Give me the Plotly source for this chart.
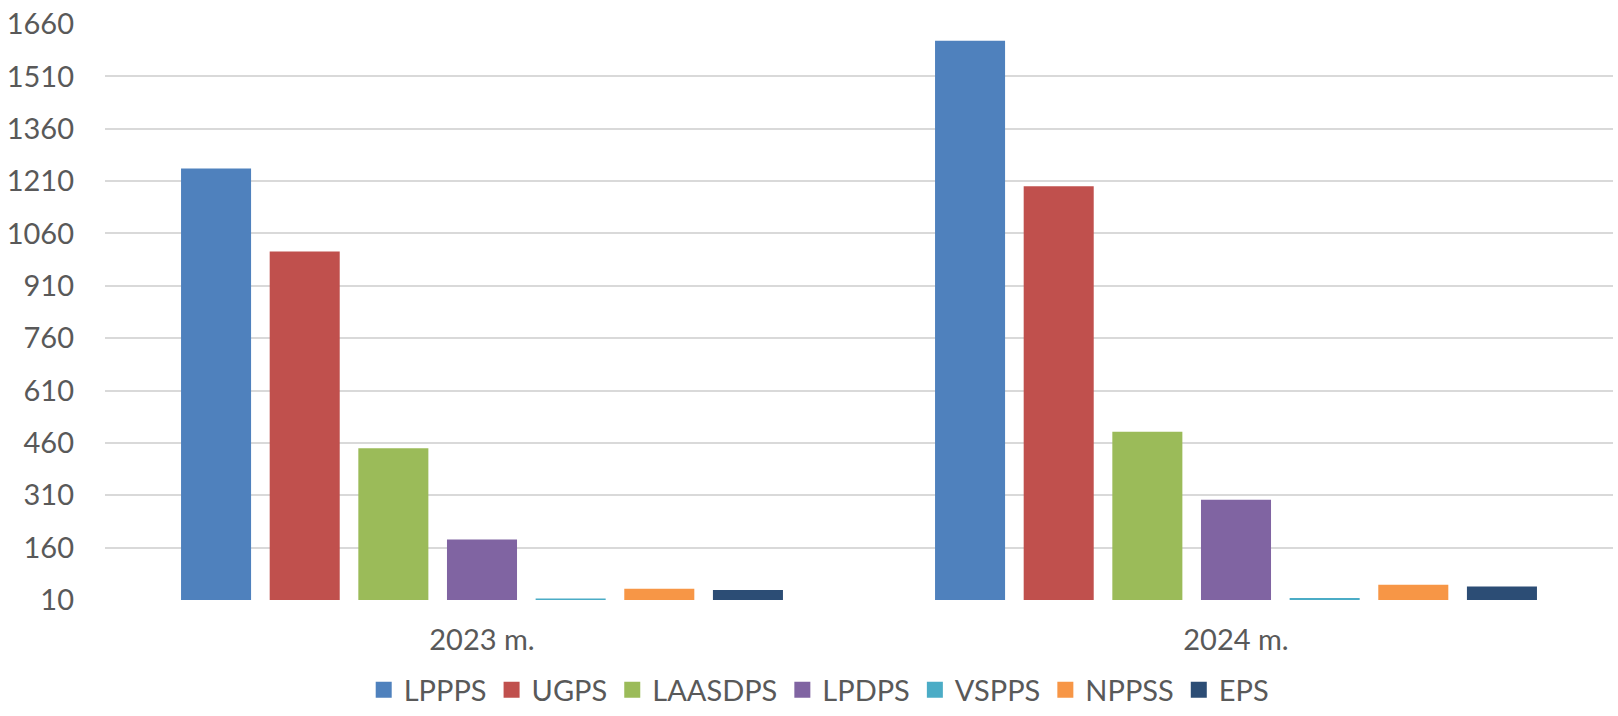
import plotly.graph_objects as go

categories = ["2023 m.", "2024 m."]
series_names = ["LPPPS", "UGPS", "LAASDPS", "LPDPS", "VSPPS", "NPPSS", "EPS"]
lppps = [1246, 1612]
ugps = [1008, 1195]
laasdps = [445, 492]
lpdps = [183, 297]
vspps = [14, 16]
nppss = [42, 54]
eps = [39, 49]
tick_values = [10, 160, 310, 460, 610, 760, 910, 1060, 1210, 1360, 1510, 1660]

series_values = [lppps, ugps, laasdps, lpdps, vspps, nppss, eps]
colors = ["#4f81bd", "#c0504d", "#9bbb59", "#8064a2", "#4bacc6", "#f79646", "#2c4d75"]

fig = go.Figure()
for name, vals, col in zip(series_names, series_values, colors):
    fig.add_trace(go.Bar(x=categories, y=vals, name=name, showlegend=False,
                         marker=dict(color=col, line=dict(width=0))))
# legend proxies with square symbols
for name, col in zip(series_names, colors):
    fig.add_trace(go.Scatter(x=[None], y=[None], mode="markers", name=name,
                             marker=dict(symbol="square", size=16, color=col)))

font_family = "Lato, Open Sans, sans-serif"
text_color = "#595959"
fs = 29

fig.update_layout(
    width=1618, height=716,
    margin=dict(l=105, r=5, t=20, b=116),
    paper_bgcolor="white", plot_bgcolor="white",
    barmode="group", bargap=0.177, bargroupgap=0.21,
    font=dict(family=font_family, size=fs, color=text_color),
    showlegend=True,
    legend=dict(orientation="h", xref="container", yref="container",
                x=0.506, xanchor="center", y=0.072, yanchor="top",
                font=dict(size=fs, color=text_color), traceorder="normal",
                itemwidth=30),
    xaxis=dict(showgrid=False, showline=False, zeroline=False, ticks="",
               ticklabelstandoff=20,
               tickfont=dict(size=fs, color=text_color)),
    yaxis=dict(range=[10, 1660], tickvals=tick_values, ticktext=[str(v) for v in tick_values],
               showgrid=True, gridcolor="#d9d9d9", gridwidth=2,
               zeroline=False, showline=False, ticks="",
               ticklabelstandoff=30,
               tickfont=dict(size=fs, color=text_color)),
)

fig.write_html("out.html", config={"displayModeBar": False},
               post_script="document.body.style.margin='0';")
